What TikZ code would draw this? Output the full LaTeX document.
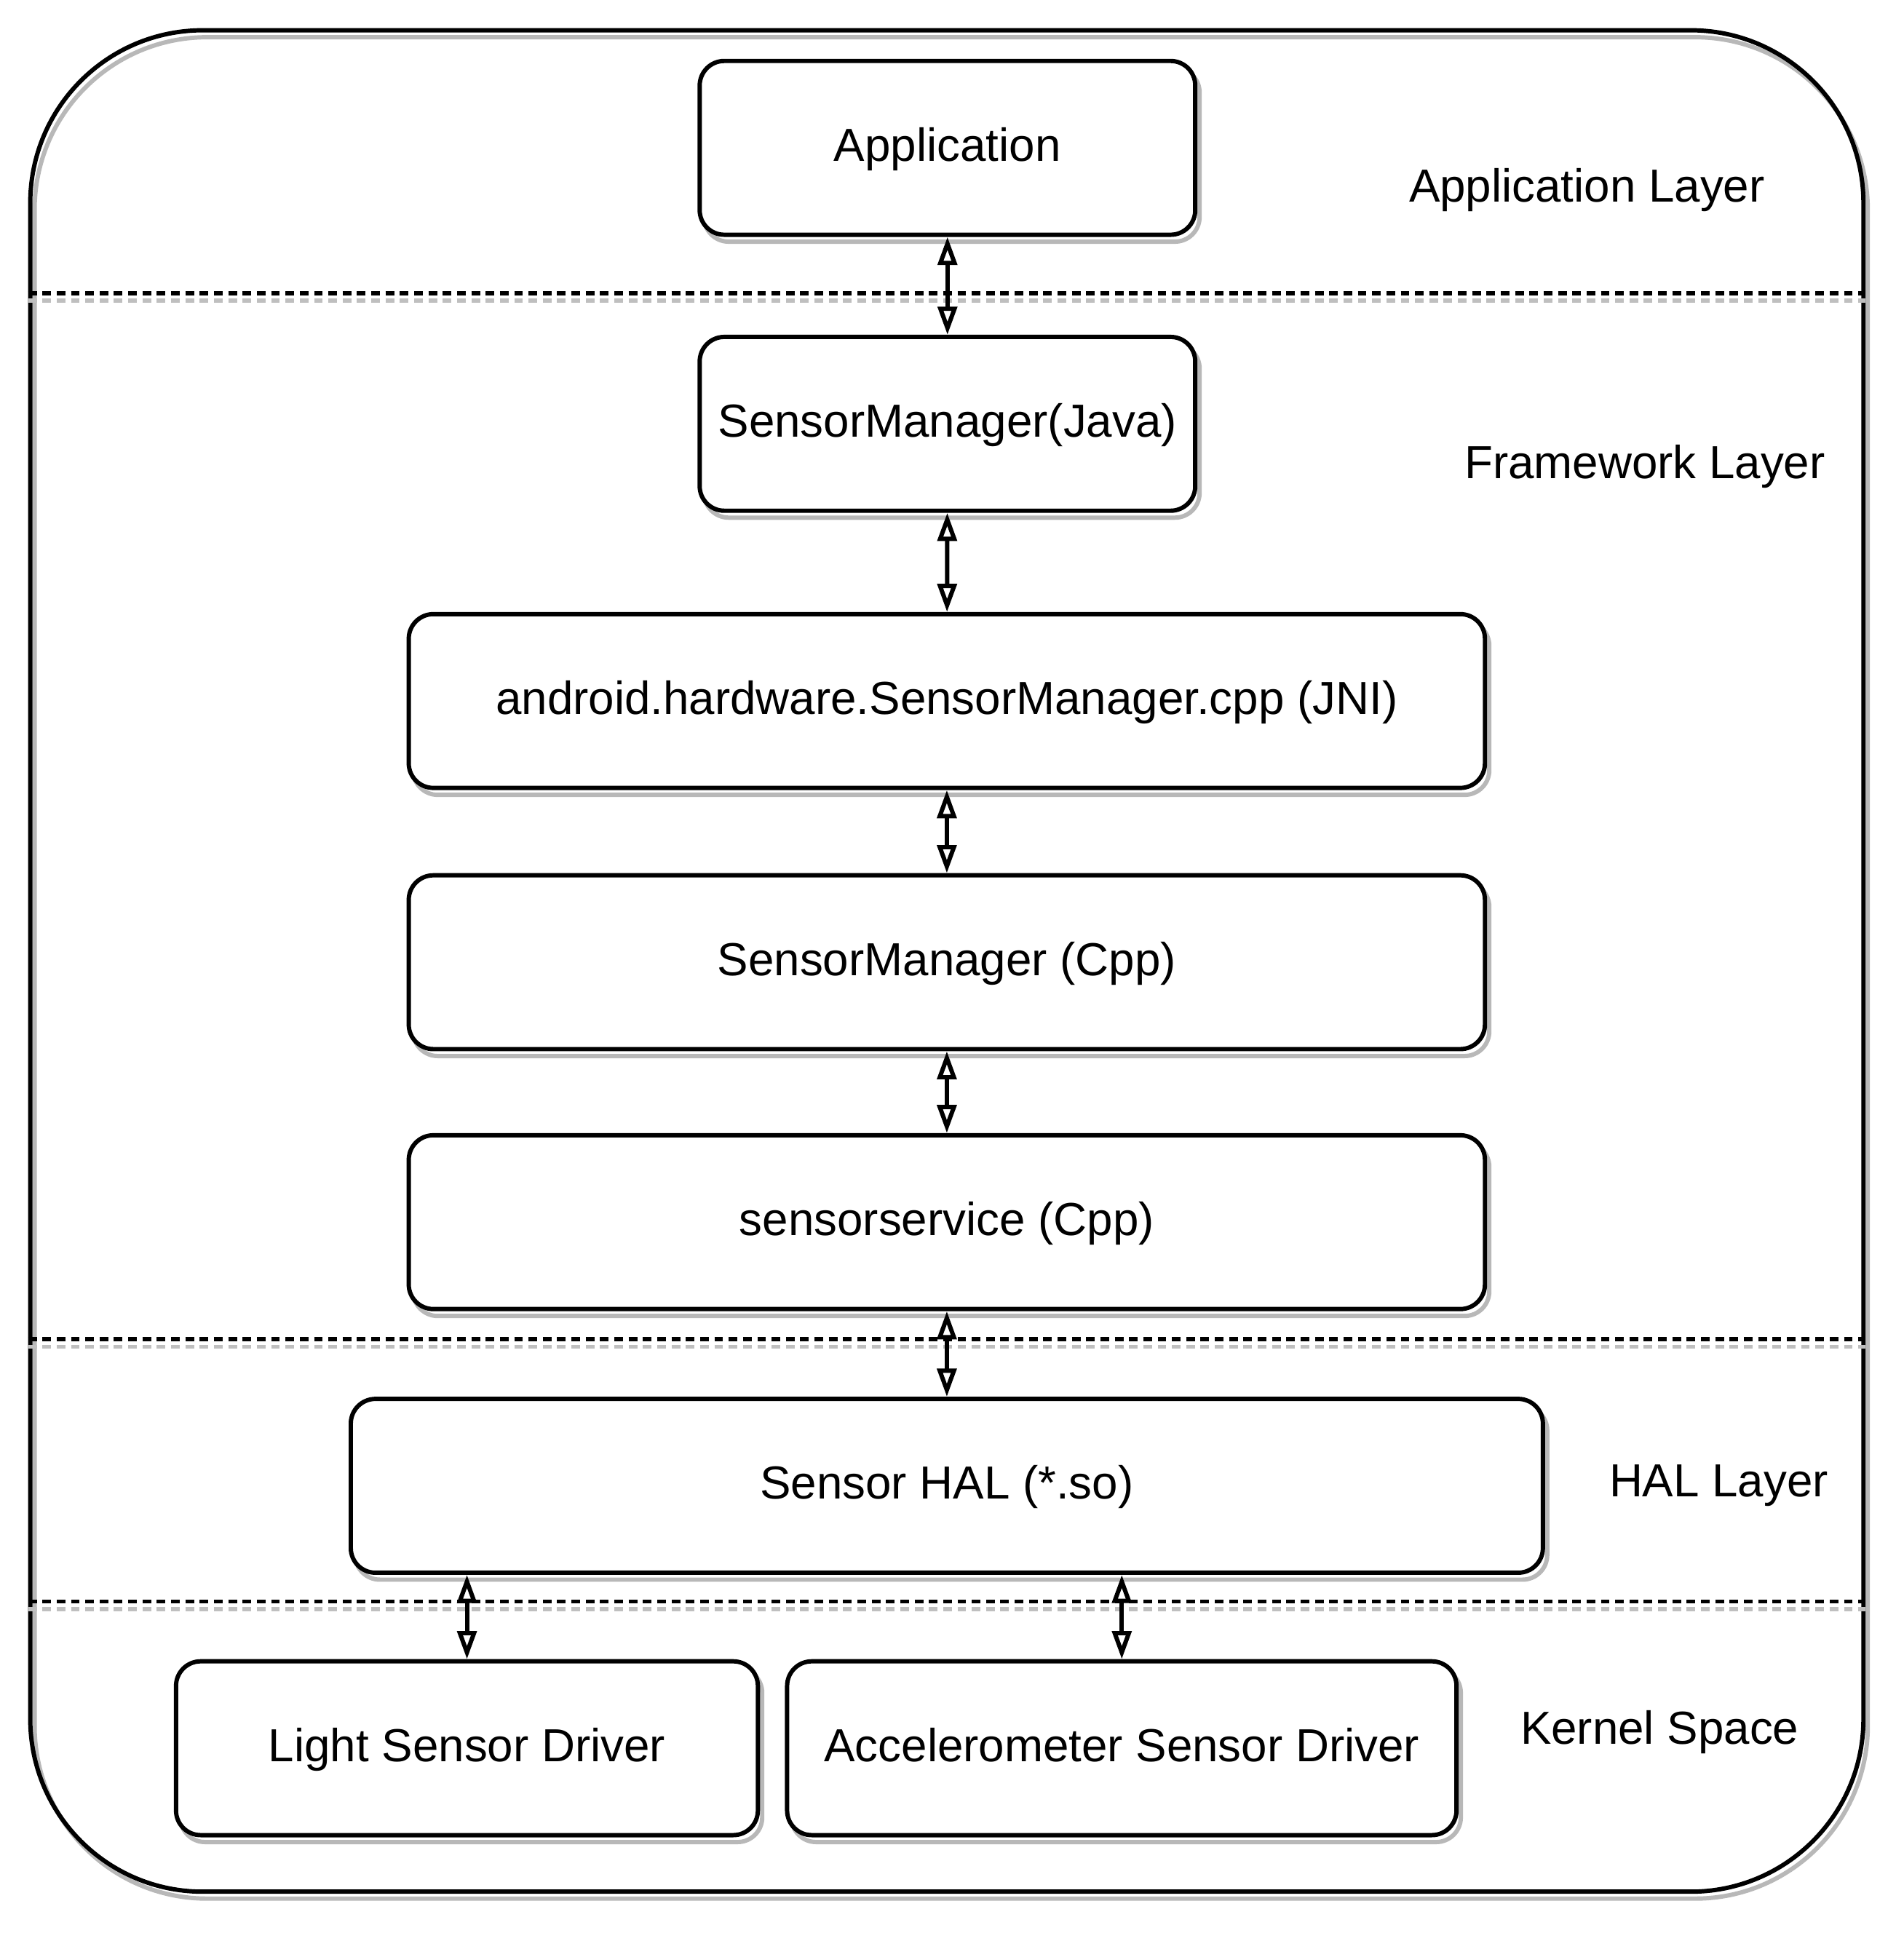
\documentclass[tikz,border=0pt]{standalone}
\usepackage{fontspec}
\setmainfont{Liberation Sans}
\usetikzlibrary{arrows.meta,shadows}
\tikzset{
    sketchshadow/.style = {general shadow = {shadow xshift = 1pt, shadow yshift = -1.6pt, draw = black!28, fill = none, line width = 1pt}},
    layerbox/.style = {draw, fill = white, line width = 1pt, rounded corners = 0.2cm, inner sep = 0pt, minimum height = 1.41cm, text height = 1.6ex, text depth = 0.45ex, sketchshadow, font = \fontsize{10.7}{13}\selectfont},
    layername/.style = {font = \fontsize{10.7}{13}\selectfont, text height = 1.6ex, text depth = 0.45ex},
    link/.style = {{Triangle[open, length = 6.5pt, width = 4.4pt]}-{Triangle[open, length = 6.5pt, width = 4.4pt]}, line width = 1pt},
    divider/.style = {dash pattern = on 2pt off 1.3pt, line width = 0.9pt}
}
\begin{document}
\begin{tikzpicture}[x = 0.01cm, y = -0.01cm]
        \useasboundingbox (0,0) rectangle (1545,1569);
        \node[draw, line width = 1pt, rounded corners = 1.4cm, minimum width = 14.87cm, minimum height = 15.1cm, sketchshadow] (frame) at (768.5,780) {};
        \draw[divider] (frame.west |- 0,238) -- (frame.east |- 0,238);
        \draw[divider] (frame.west |- 0,1087) -- (frame.east |- 0,1087);
        \draw[divider] (frame.west |- 0,1300) -- (frame.east |- 0,1300);
        \begin{scope}[black!25]
            \draw[divider] (frame.west |- 0,244) -- (frame.east |- 0,244);
            \draw[divider] (frame.west |- 0,1093) -- (frame.east |- 0,1093);
            \draw[divider] (frame.west |- 0,1306) -- (frame.east |- 0,1306);
        \end{scope}
        \node[layerbox, minimum width = 4.02cm] (app) at (769,120) {Application};
        \node[layerbox, minimum width = 4.02cm] (java) at (769,344) {SensorManager(Java)};
        \node[layerbox, minimum width = 8.73cm] (jni) at (768.5,569) {android.hardware.SensorManager.cpp (JNI)};
        \node[layerbox, minimum width = 8.73cm] (cpp) at (768.5,781) {SensorManager (Cpp)};
        \node[layerbox, minimum width = 8.73cm] (service) at (768.5,992) {sensorservice (Cpp)};
        \node[layerbox, minimum width = 9.67cm] (hal) at (768.5,1206) {Sensor HAL (*.so)};
        \node[layerbox, minimum width = 4.72cm] (light) at (379,1419) {Light Sensor Driver};
        \node[layerbox, minimum width = 5.43cm] (accel) at (910.5,1419) {Accelerometer Sensor Driver};
        \begin{scope}[every node/.append style = {layername}]
            \node (applayer) at (1288,153) {Application Layer};
            \node (fwlayer) at (1335,378) {Framework Layer};
            \node (hallayer) at (1395,1204) {HAL Layer};
            \node (kernel) at (1347,1405) {Kernel Space};
        \end{scope}
        \draw[link] (app) -- (java);
        \draw[link] (java) -- (jni);
        \draw[link] (jni) -- (cpp);
        \draw[link] (cpp) -- (service);
        \draw[link] (service) -- (hal);
        \draw[link] (light.north |- hal.south) -- (light.north);
        \draw[link] (accel.north |- hal.south) -- (accel.north);
    \end{tikzpicture}
\end{document}
